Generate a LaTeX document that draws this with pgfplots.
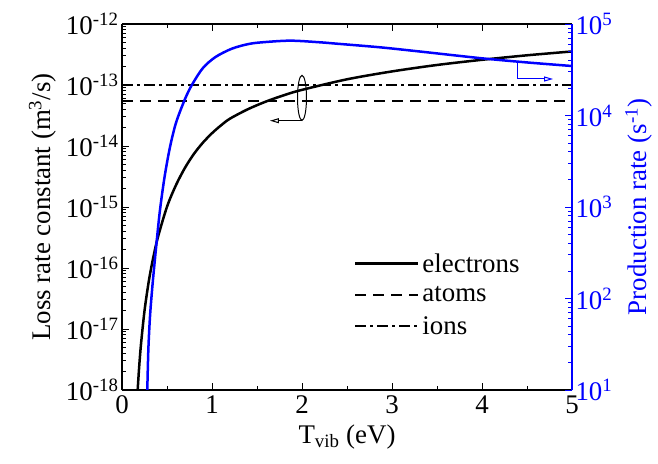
\documentclass[border=0pt]{standalone}
\usepackage{fontspec}
\setmainfont{Liberation Serif}
\usepackage{pgfplots}
\pgfplotsset{compat=1.18}
\usetikzlibrary{arrows.meta}

\pgfplotstableread{
T k
0.174 1.00e-18
0.19 2.30e-18
0.21 5.41e-18
0.25 1.98e-17
0.30 6.37e-17
0.35 1.55e-16
0.40 3.24e-16
0.50 1.01e-15
0.60 2.29e-15
0.70 4.40e-15
0.80 7.46e-15
0.90 1.14e-14
1.00 1.62e-14
1.10 2.18e-14
1.20 2.81e-14
1.40 4.02e-14
1.60 5.36e-14
1.80 6.81e-14
2.00 8.33e-14
2.50 1.24e-13
3.00 1.67e-13
3.50 2.13e-13
4.00 2.59e-13
4.50 3.07e-13
5.00 3.55e-13
}\electrons

\pgfplotstableread{
T P
0.281 10
0.292 26.3
0.305 50.1
0.318 79.4
0.34 144.5
0.36 234.4
0.385 416.9
0.42 891.3
0.47 2042
0.53 4365
0.60 8318
0.70 15136
0.78 21878
0.90 33113
1.04 43652
1.22 53703
1.40 60256
1.556 63096
1.87 65766
2.20 63096
2.385 60954
2.87 55590
3.35 49545
4.00 42170
4.50 38019
5.00 34754
}\production

\pgfplotsset{
  log number format basis/.code 2 args={#1\textsuperscript{\pgfmathparse{int(round(#2))}\pgfmathresult}},
}

\begin{document}
\begin{tikzpicture}[font=\fontsize{27}{32}\selectfont]
\begin{axis}[
  width=450bp, height=366bp, scale only axis,
  xmin=0, xmax=5, ymin=1e-18, ymax=1e-12,
  ymode=log,
  /pgf/number format/assume math mode=true,
  axis x line*=box, axis y line*=left,
  xtick={0,1,2,3,4,5}, minor x tick num=1,
  xtick pos=both,
  tick align=inside,
  major tick length=7bp, minor tick length=4bp,
  axis line style={line width=1.2bp},
  every tick/.append style={line width=0.9bp, black},
  xticklabel style={yshift=-2bp},
  xlabel={T\textsubscript{vib} (eV)},
  xlabel style={yshift=-4bp},
  ylabel={Loss rate constant (m\textsuperscript{3}/s)},
  ylabel shift=3bp,
  legend style={draw=none, fill=none, at={(rel axis cs:0.515,0.382)}, anchor=north west,
    font=\fontsize{27}{32}\selectfont, row sep=7bp, inner sep=0pt,
    nodes={inner sep=3bp}},
  legend cell align=left,
  legend image code/.code={\draw[#1] (0bp,0bp) -- (63bp,0bp);},
]
\addplot[black, line width=2.5bp, smooth, tension=0.5] table[x=T, y=k] {\electrons};
\addlegendentry{electrons}
\addplot[black, line width=2.5bp, dash pattern=on 11bp off 7bp] coordinates {(0,5.5e-14) (5,5.5e-14)};
\addlegendentry{atoms}
\addplot[black, line width=2.5bp, dash pattern=on 11bp off 4bp on 3bp off 4bp] coordinates {(0,1e-13) (5,1e-13)};
\addlegendentry{ions}
\draw[black, line width=1bp] (axis cs:2.0,6.17e-14) ellipse [x radius=4.5bp, y radius=22.5bp];
\draw[black, line width=1bp, -{Triangle[open,length=9bp,width=5bp]}] (axis cs:2.0,2.60e-14) -- (axis cs:1.644,2.60e-14);
\coordinate (bl) at (rel axis cs:0,0);
\coordinate (tr) at (rel axis cs:1,1);
\end{axis}
\begin{axis}[
  width=450bp, height=366bp, scale only axis,
  xmin=0, xmax=5, ymin=10, ymax=1e5,
  ymode=log,
  axis x line=none, axis y line*=right,
  tick align=inside,
  major tick length=7bp, minor tick length=4bp,
  y axis line style={draw=blue, line width=1.2bp},
  every tick/.append style={line width=0.9bp, blue},
  yticklabel style={text=blue},
  ylabel={Production rate (s\textsuperscript{-1})},
  ylabel style={text=blue},
  ylabel shift=6bp,
]
\addplot[blue, line width=2.5bp, smooth, tension=0.5] table[x=T, y=P] {\production};
\draw[blue, line width=1bp, -{Triangle[open,length=9bp,width=5bp]}] (axis cs:4.397,38100) -- (axis cs:4.397,25060) -- (axis cs:4.79,25060);
\end{axis}
\pgfresetboundingbox
\path[use as bounding box] ([shift={(-122bp,-74bp)}]bl) rectangle ([shift={(86bp,24bp)}]tr);
\end{tikzpicture}
\end{document}
